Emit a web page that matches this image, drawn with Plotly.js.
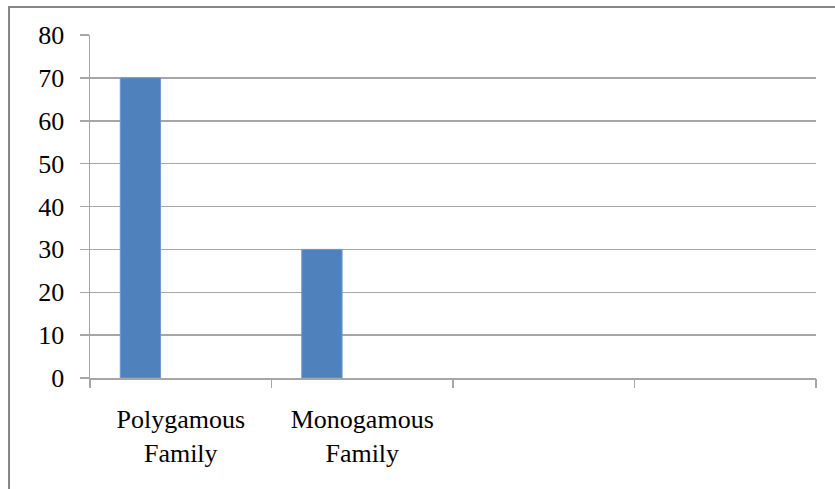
<!DOCTYPE html>
<html>
<head>
<meta charset="utf-8">
<script src="https://cdn.plot.ly/plotly-3.0.1.min.js"></script>
<style>
  html, body { margin: 0; padding: 0; background: #ffffff; }
  #chart { width: 835px; height: 489px; }
</style>
</head>
<body>
<div id="chart"></div>
<script>
// Family type (percent of respondents)
const familyTypes = ["Polygamous<br>Family", "Monogamous<br>Family"];
const percentages = [70, 30];
const yTicks = [0, 10, 20, 30, 40, 50, 60, 70, 80];
// the category axis keeps two unused slots to the right
const categorySlots = 4;

const W = 835, H = 489;
const M = { l: 90, r: 19, t: 35, b: 111 };
const plotW = W - M.l - M.r;
const plotH = H - M.t - M.b;
// convert page pixels to paper coordinates for the outer frame
const px = v => (v - M.l) / plotW;
const py = v => (H - M.b - v) / plotH;

// bar occupies the first of three slots in each category (gap width 150%)
const slot = 1 / 4.5;
// tick marks sit on the boundaries between category slots
const boundaries = Array.from({ length: categorySlots + 1 }, (_, i) => i - 0.5);

const gridGray = "#a6a6a6";
const font = { family: "Liberation Serif", size: 26, color: "#000000" };

const trace = {
  type: "bar",
  x: familyTypes,
  y: percentages,
  width: slot,
  offset: -0.5 + 0.75 * slot,
  marker: { color: "#4f81bd", line: { color: "#6f98cc", width: 1 } },
  hoverinfo: "x+y"
};

const layout = {
  width: W,
  height: H,
  margin: M,
  paper_bgcolor: "#ffffff",
  plot_bgcolor: "#ffffff",
  font: font,
  showlegend: false,
  xaxis: {
    type: "category",
    categoryorder: "array",
    categoryarray: familyTypes,
    range: [-0.5, categorySlots - 0.5],
    ticks: "",
    showgrid: false,
    showline: true,
    linecolor: gridGray,
    linewidth: 1.5,
    ticklabelstandoff: 17,
    tickfont: font,
    fixedrange: true
  },
  // tick-mark-only axis laid over the category axis
  xaxis2: {
    overlaying: "x",
    side: "bottom",
    range: [-0.5, categorySlots - 0.5],
    tickvals: boundaries,
    showticklabels: false,
    ticks: "outside",
    ticklen: 9,
    tickwidth: 1.5,
    tickcolor: gridGray,
    showgrid: false,
    zeroline: false,
    showline: false,
    fixedrange: true
  },
  yaxis: {
    range: [0, 80],
    tickvals: yTicks,
    ticks: "outside",
    ticklen: 9,
    tickwidth: 1.5,
    tickcolor: gridGray,
    showgrid: true,
    gridcolor: gridGray,
    gridwidth: 1.5,
    zeroline: false,
    showline: true,
    linecolor: gridGray,
    linewidth: 1.5,
    ticklabelstandoff: 10,
    tickfont: font,
    fixedrange: true
  },
  shapes: [{
    type: "rect",
    xref: "paper", yref: "paper",
    x0: px(9), x1: px(845),
    y0: py(7), y1: py(500),
    line: { color: "#878787", width: 2 },
    fillcolor: "rgba(0,0,0,0)",
    layer: "above"
  }]
};

// empty trace so the tick-mark axis is drawn
const tickAxisTrace = { type: "scatter", x: [], y: [], xaxis: "x2", hoverinfo: "skip" };

Plotly.newPlot("chart", [trace, tickAxisTrace], layout, { displayModeBar: false, staticPlot: true });
</script>
</body>
</html>
